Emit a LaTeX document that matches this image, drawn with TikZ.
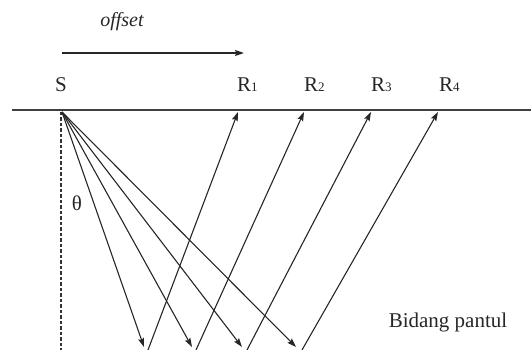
\documentclass[tikz,border=0pt]{standalone}
\usepackage{fontspec}
\setmainfont{Liberation Serif}
\usetikzlibrary{arrows.meta}
\tikzset{
  ray/.style={-{Stealth[length=9pt,width=6pt,inset=1.5pt]},line width=1.1pt,draw=black!85},
  ground/.style={line width=2.2pt,draw=black!75},
  lbl/.style={font=\fontsize{21}{24}\selectfont,inner sep=0pt,text=black!85},
}
\begin{document}
\begin{tikzpicture}[x=1pt, y=-1pt]
  \useasboundingbox (0,0) rectangle (531,350);
  % surface and shot point
  \coordinate (left) at (12,110);
  \coordinate (right) at (531,110);
  \draw[ground] (left) -- (right);
  \coordinate (s) at (62,112);
  \coordinate (base) at (61,350);
  \draw[line width=1.3pt,draw=black!80,dash pattern=on 3.5pt off 2pt] (s -| base) -- (base);
  % receivers, reflection points
  \coordinate (r1) at (238,112);
  \coordinate (r2) at (304,112);
  \coordinate (r3) at (371,112);
  \coordinate (r4) at (438,112);
  \coordinate (d1) at (144,347);
  \coordinate (d2) at (192,347);
  \coordinate (d3) at (242,347);
  \coordinate (d4) at (296,347);
  \coordinate (u1) at (148,350);
  \coordinate (u2) at (196,350);
  \coordinate (u3) at (247,350);
  \coordinate (u4) at (302,350);
  \foreach \i in {1,...,4} {
    \draw[ray] (s) -- (d\i);
    \draw[ray] (u\i) -- (r\i);
  }
  % offset
  \coordinate (oa) at (62,53);
  \coordinate (ob) at (244,53);
  \draw[ray,line width=1.4pt] (oa) -- (ob);
  \node[lbl,font=\fontsize{20}{23}\selectfont\itshape] (off) at (122,22) {offset};
  % labels
  \node[lbl,anchor=base west] (ls) at (55,92) {S};
  \node[lbl,anchor=base west] (l1) at (237,92) {R{\fontsize{13}{15}\selectfont 1}};
  \node[lbl,anchor=base west] (l2) at (304,92) {R{\fontsize{13}{15}\selectfont 2}};
  \node[lbl,anchor=base west] (l3) at (371,92) {R{\fontsize{13}{15}\selectfont 3}};
  \node[lbl,anchor=base west] (l4) at (439,92) {R{\fontsize{13}{15}\selectfont 4}};
  \node[lbl] (th) at (77,203) {θ};
  \node[lbl] (bp) at (448,322) {Bidang pantul};
\end{tikzpicture}
\end{document}
